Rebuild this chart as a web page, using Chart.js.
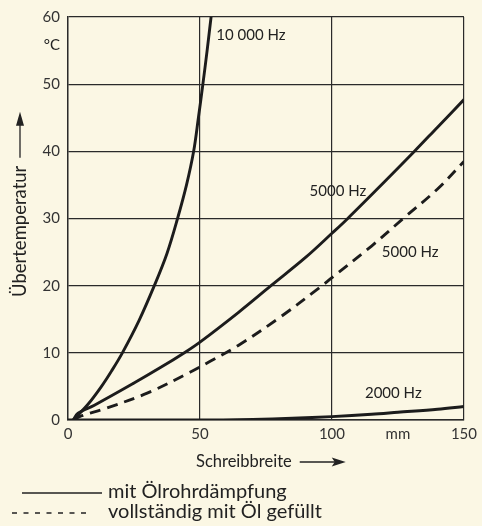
<!DOCTYPE html>
<html>
<head>
<meta charset="utf-8">
<script src="https://cdn.jsdelivr.net/npm/chart.js@4"></script>
<style>
html, body { margin: 0; padding: 0; background: #fbf7e4; }
</style>
</head>
<body>
<canvas id="myChart" width="482" height="526"></canvas>
<script>
const ctx = document.getElementById('myChart');

// Schreibbreite in mm / Übertemperatur in °C
const x10000 = [2, 7.5, 12.5, 16.5, 20.6, 26.9, 32.7, 37.5, 41.5, 44.9, 47.6, 49.4, 51.1, 52.7, 54.2, 54.8];
const y10000 = [0, 2.3, 4.9, 7.3, 10, 14.8, 20, 24.8, 30, 35, 40, 45, 50, 55, 60, 62];

const x5000 = [2, 3.8, 10, 25, 35, 44.4, 50, 64.5, 76.9, 90, 100, 105.7, 120, 131, 140, 150];
const y5000 = [0, 1, 2.2, 5.5, 7.8, 10.1, 11.6, 16, 20, 24.2, 27.8, 29.9, 35.5, 39.9, 43.6, 47.7];

const x5000oel = [2, 5, 13.3, 30, 46.2, 53.7, 64.5, 80, 95.6, 100, 115, 127, 140, 150];
const y5000oel = [0, 0.6, 1.6, 4, 7.1, 8.7, 11.1, 15.2, 19.8, 21.2, 25.9, 30, 34.4, 38.5];

const x2000 = [0, 50, 70, 85, 100, 115, 125, 140, 150];
const y2000 = [0, 0, 0.1, 0.25, 0.5, 0.85, 1.15, 1.6, 2.0];

const yTicks = [0, 10, 20, 30, 40, 50, 60];
const xTickLabels = ['0', '', '50', '', '100', 'mm', '150'];

const kurvenLabels = [
    { text: '10 000 Hz', x: 56.2, y: 57.3 },
    { text: '5000 Hz', x: 91.5, y: 34.1 },
    { text: '5000 Hz', x: 118.9, y: 25.0 },
    { text: '2000 Hz', x: 112.5, y: 4.0 }
];

const FONT = "Lato, 'Liberation Sans', sans-serif";
const INK = '#1c1c1c';

function punkte(xs, ys) {
    let arr = [];
    for (let i = 0; i < xs.length; i++) arr.push({ x: xs[i], y: ys[i] });
    return arr;
}

function kurve(label, xs, ys, dash) {
    return {
        label: label,
        data: punkte(xs, ys),
        borderColor: INK,
        borderWidth: 2.9,
        borderDash: dash,
        pointRadius: 0,
        tension: 0.35,
        fill: false
    };
}

const hintergrund = {
    id: 'hintergrund',
    beforeDraw(chart) {
        const c = chart.ctx;
        c.save();
        c.fillStyle = '#fbf7e4';
        c.fillRect(0, 0, chart.width, chart.height);
        c.restore();
    }
};

const beschriftung = {
    id: 'beschriftung',
    afterDraw(chart) {
        const c = chart.ctx;
        const xs = chart.scales.x, ys = chart.scales.y;
        c.save();
        c.fillStyle = '#222';
        c.strokeStyle = '#222';

        // curve labels
        c.font = '15px ' + FONT;
        c.textAlign = 'left';
        c.textBaseline = 'middle';
        kurvenLabels.forEach(l => {
            c.fillText(l.text, xs.getPixelForValue(l.x), ys.getPixelForValue(l.y));
        });

        // unit °C
        c.font = '15px ' + FONT;
        c.textAlign = 'right';
        c.fillText('°C', xs.left - 8, ys.getPixelForValue(55.8));

        // x title with arrow
        c.textAlign = 'left';
        c.font = '16.5px ' + FONT;
        const xt = 'Schreibbreite';
        c.fillText(xt, 196, 462);
        const xa = 196 + c.measureText(xt).width + 8;
        c.lineWidth = 1.3;
        c.beginPath();
        c.moveTo(xa, 462);
        c.lineTo(xa + 36, 462);
        c.stroke();
        c.beginPath();
        c.moveTo(xa + 46, 462);
        c.lineTo(xa + 32, 457.5);
        c.lineTo(xa + 35, 462);
        c.lineTo(xa + 32, 466.5);
        c.closePath();
        c.fill();

        // y title with arrow
        c.save();
        c.translate(20, 297);
        c.rotate(-Math.PI / 2);
        c.font = '18.5px ' + FONT;
        const yt = 'Übertemperatur';
        c.fillText(yt, 0, 0);
        const ya = c.measureText(yt).width + 8;
        c.beginPath();
        c.moveTo(ya, 0);
        c.lineTo(ya + 34, 0);
        c.stroke();
        c.beginPath();
        c.moveTo(ya + 46, 0);
        c.lineTo(ya + 32, -4);
        c.lineTo(ya + 32, 4);
        c.closePath();
        c.fill();
        c.restore();

        // legend
        c.font = '20px ' + FONT;
        c.lineWidth = 1.4;
        c.beginPath();
        c.moveTo(22, 493);
        c.lineTo(102, 493);
        c.stroke();
        c.fillText('mit Ölrohrdämpfung', 108, 492);
        c.setLineDash([5, 6.5]);
        c.beginPath();
        c.moveTo(12, 513);
        c.lineTo(92, 513);
        c.stroke();
        c.setLineDash([]);
        c.fillText('vollständig mit Öl gefüllt', 108, 512);
        c.restore();
    }
};

var myChart = new Chart(ctx, {
    type: 'line',
    data: {
        datasets: [
            kurve('10000 Hz', x10000, y10000, []),
            kurve('5000 Hz', x5000, y5000, []),
            kurve('5000 Hz Öl', x5000oel, y5000oel, [11, 7]),
            kurve('2000 Hz', x2000, y2000, [])
        ]
    },
    options: {
        responsive: false,
        animation: false,
        layout: { padding: { left: 0, top: 15, right: 15, bottom: 0 } },
        plugins: {
            legend: { display: false },
            tooltip: { enabled: false }
        },
        scales: {
            x: {
                type: 'linear',
                min: 0,
                max: 150,
                afterFit: function (scale) { scale.height = 106; },
                ticks: {
                    stepSize: 25,
                    padding: 5,
                    color: '#333',
                    font: { size: 15, family: FONT },
                    maxRotation: 0,
                    callback: function (v) { return xTickLabels[Math.round(v / 25)]; }
                },
                grid: {
                    drawTicks: false,
                    lineWidth: 1.2,
                    color: function (c) {
                        return c.tick && c.tick.value % 50 === 0 ? '#2a2a2a' : 'rgba(0,0,0,0)';
                    }
                },
                border: { color: '#2a2a2a', width: 1.4 }
            },
            y: {
                min: 0,
                max: 60,
                afterFit: function (scale) { scale.width = 68; },
                afterBuildTicks: function (scale) {
                    scale.ticks = yTicks.map(v => ({ value: v }));
                },
                ticks: {
                    padding: 8,
                    color: '#333',
                    font: { size: 15, family: FONT }
                },
                grid: { drawTicks: false, lineWidth: 1.2, color: '#2a2a2a' },
                border: { color: '#2a2a2a', width: 1.4 }
            }
        }
    },
    plugins: [hintergrund, beschriftung]
});
</script>
</body>
</html>
